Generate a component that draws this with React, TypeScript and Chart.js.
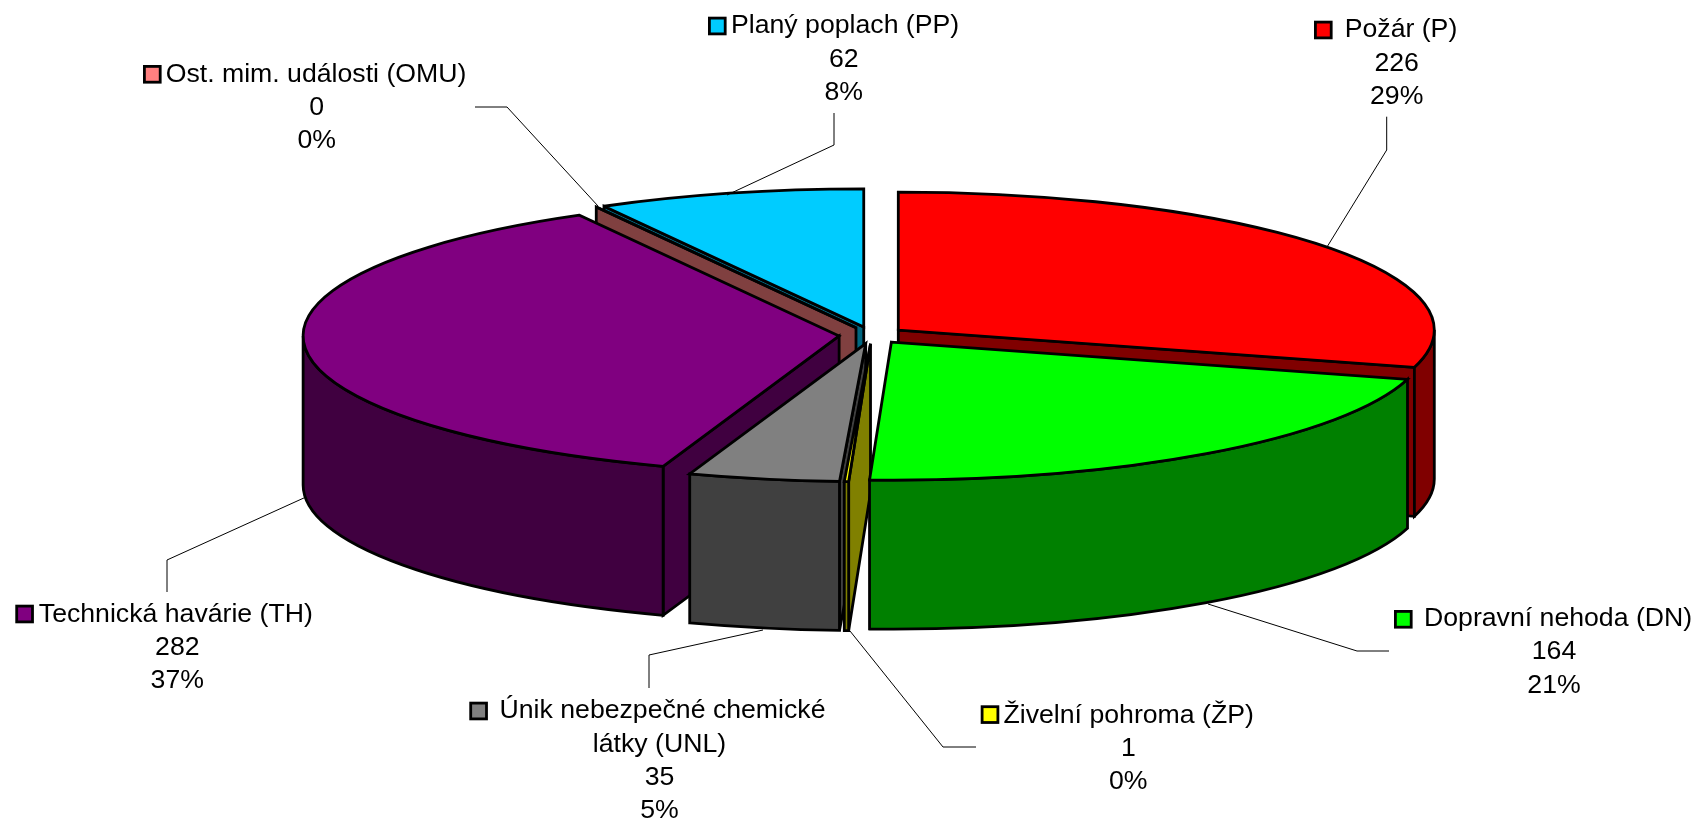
import React, { useEffect, useRef } from "react";
import { Chart, registerables } from "chart.js";

Chart.register(...registerables);

// ---- data ----
const categories = [
  "Požár (P)",
  "Dopravní nehoda (DN)",
  "Živelní pohroma (ŽP)",
  "Únik nebezpečné chemické látky (UNL)",
  "Technická havárie (TH)",
  "Ost. mim. události (OMU)",
  "Planý poplach (PP)",
];
const values = [226, 164, 1, 35, 282, 0, 62];
const percents = ["29%", "21%", "0%", "5%", "37%", "0%", "8%"];
const topColors = ["#FF0000", "#00FF00", "#FFFF00", "#808080", "#800080", "#FF8080", "#00CCFF"];
const wallColors = ["#800000", "#008000", "#808000", "#404040", "#400040", "#804040", "#006680"];

// ---- layout ----
const W = 1697;
const H = 821;
const CX = 872;
const CY = 335.2;
const RADIUS = 536;
const TILT = 0.2575;
const DEPTH = 149;
const EXPLODE = 33;
const OUTLINE = 2.8;
const wallOrder = [6, 5, 0, 4, 3, 2, 1];
const FONT = '26.67px "Liberation Sans", Arial, sans-serif';
const LINE = 33.3;
const MARKER = 15.8;

const labelLayout = [
  { markerX: 1315.4, markerY: 22.1, textX: 1344.7, cx: 1396.7, y: 37.3, wrap: null },
  { markerX: 1395.4, markerY: 611.4, textX: 1424, cx: 1554, y: 626, wrap: null },
  { markerX: 982.1, markerY: 706.7, textX: 1003.5, cx: 1128.3, y: 722.7, wrap: null },
  { markerX: 470.7, markerY: 703.1, textX: 499.5, cx: 659.5, y: 718.3, wrap: ["Únik nebezpečné chemické", "látky (UNL)"] },
  { markerX: 16.7, markerY: 606.1, textX: 38.8, cx: 177.3, y: 621.7, wrap: null },
  { markerX: 144.4, markerY: 66.4, textX: 165.7, cx: 316.7, y: 81.7, wrap: null },
  { markerX: 709.4, markerY: 18.1, textX: 731, cx: 843.7, y: 33.3, wrap: null },
];

const leaders: number[][][] = [
  [[1386.7, 116.7], [1386.7, 150], [1327, 247]],
  [[1389, 651], [1357, 651], [1208, 604]],
  [[976, 747], [943, 747], [850, 631]],
  [[649, 688], [649, 655], [763, 630]],
  [[167, 592], [167, 560], [306, 497]],
  [[475, 107], [507, 107], [598, 206]],
  [[834, 113], [834, 145], [727, 195]],
];

const pie3d = {
  id: "pie3d",
  beforeDatasetDraw(chart: any, args: any) {
    const ctx: CanvasRenderingContext2D = chart.ctx;
    const arcs = args.meta.data;
    const geom = arcs.map((a: any) => {
      const mid = (a.startAngle + a.endAngle) / 2;
      return {
        s: a.startAngle,
        e: a.endAngle,
        x: a.x + Math.cos(mid) * EXPLODE,
        y: a.y + Math.sin(mid) * EXPLODE * TILT,
        r: a.outerRadius,
      };
    });
    ctx.save();
    ctx.lineWidth = OUTLINE;
    ctx.strokeStyle = "#000";
    ctx.lineJoin = "miter";
    ctx.miterLimit = 3;

    const paint = (fill: string) => {
      ctx.fillStyle = fill;
      ctx.fill();
      ctx.stroke();
    };
    const edgeWall = (g: any, ang: number) => {
      const rx = g.x + Math.cos(ang) * g.r;
      const ry = g.y + Math.sin(ang) * g.r * TILT;
      ctx.beginPath();
      ctx.moveTo(g.x, g.y);
      ctx.lineTo(rx, ry);
      ctx.lineTo(rx, ry + DEPTH);
      ctx.lineTo(g.x, g.y + DEPTH);
      ctx.closePath();
    };

    // walls, back to front
    for (const i of wallOrder) {
      const g = geom[i];
      const color = wallColors[i];
      const startVisible = Math.cos(g.s) < -1e-6;
      const endVisible = Math.cos(g.e) > 1e-6;
      if (startVisible) {
        edgeWall(g, g.s);
        paint(color);
      }
      if (endVisible) {
        edgeWall(g, g.e);
        paint(color);
      }
      const a1 = Math.max(g.s, 0);
      const a2 = Math.min(g.e, Math.PI);
      if (a2 > a1) {
        ctx.beginPath();
        ctx.ellipse(g.x, g.y, g.r, g.r * TILT, 0, a1, a2);
        ctx.ellipse(g.x, g.y + DEPTH, g.r, g.r * TILT, 0, a2, a1, true);
        ctx.closePath();
        paint(color);
      }
    }

    // top faces through the library's own arc elements
    arcs.forEach((arc: any, i: number) => {
      const g = geom[i];
      ctx.save();
      ctx.translate(g.x, g.y);
      ctx.scale(1, TILT);
      ctx.translate(-arc.x, -arc.y);
      arc.draw(ctx);
      ctx.restore();
    });
    // outlines of the tops, at an even stroke width
    arcs.forEach((_: any, i: number) => {
      const g = geom[i];
      ctx.beginPath();
      ctx.moveTo(g.x, g.y);
      if (g.e > g.s) ctx.ellipse(g.x, g.y, g.r, g.r * TILT, 0, g.s, g.e);
      else ctx.lineTo(g.x + Math.cos(g.s) * g.r, g.y + Math.sin(g.s) * g.r * TILT);
      ctx.closePath();
      ctx.stroke();
    });
    ctx.restore();
    return false;
  },
  afterDraw(chart: any) {
    const ctx: CanvasRenderingContext2D = chart.ctx;
    ctx.save();
    // leader lines
    ctx.strokeStyle = "#000";
    ctx.lineWidth = 1;
    for (const pts of leaders) {
      ctx.beginPath();
      pts.forEach((p, k) => (k ? ctx.lineTo(p[0], p[1]) : ctx.moveTo(p[0], p[1])));
      ctx.stroke();
    }
    // labels
    ctx.font = FONT;
    ctx.fillStyle = "#000";
    ctx.textBaseline = "alphabetic";
    categories.forEach((name, i) => {
      const l = labelLayout[i];
      const first = l.wrap ? l.wrap[0] : name;
      const rest = [...(l.wrap ? l.wrap.slice(1) : []), String(values[i]), percents[i]];
      ctx.textAlign = "left";
      ctx.fillText(first, l.textX, l.y);
      ctx.textAlign = "center";
      rest.forEach((t, k) => ctx.fillText(t, l.cx, l.y + LINE * (k + 1)));
      ctx.fillStyle = topColors[i];
      ctx.strokeStyle = "#000";
      ctx.lineWidth = 2.8;
      ctx.fillRect(l.markerX, l.markerY, MARKER, MARKER);
      ctx.strokeRect(l.markerX, l.markerY, MARKER, MARKER);
      ctx.fillStyle = "#000";
    });
    ctx.restore();
  },
};

export default function App() {
  const ref = useRef<HTMLCanvasElement>(null);
  useEffect(() => {
    const chart = new Chart(ref.current as HTMLCanvasElement, {
      type: "pie",
      data: {
        labels: categories,
        datasets: [
          {
            data: values,
            backgroundColor: topColors,
            borderWidth: 0,
            radius: RADIUS,
            clip: false,
          } as any,
        ],
      },
      options: {
        responsive: false,
        animation: false,
        layout: {
          padding: { left: 2 * CX - W, right: 0, top: 0, bottom: H - 2 * CY },
        },
        plugins: { legend: { display: false }, tooltip: { enabled: false } },
      },
      plugins: [pie3d],
    } as any);
    return () => chart.destroy();
  }, []);
  return (
    <div style={{ position: "fixed", left: 0, top: 0, width: W, height: H, background: "#fff" }}>
      <canvas ref={ref} width={W} height={H} style={{ display: "block" }} />
    </div>
  );
}
